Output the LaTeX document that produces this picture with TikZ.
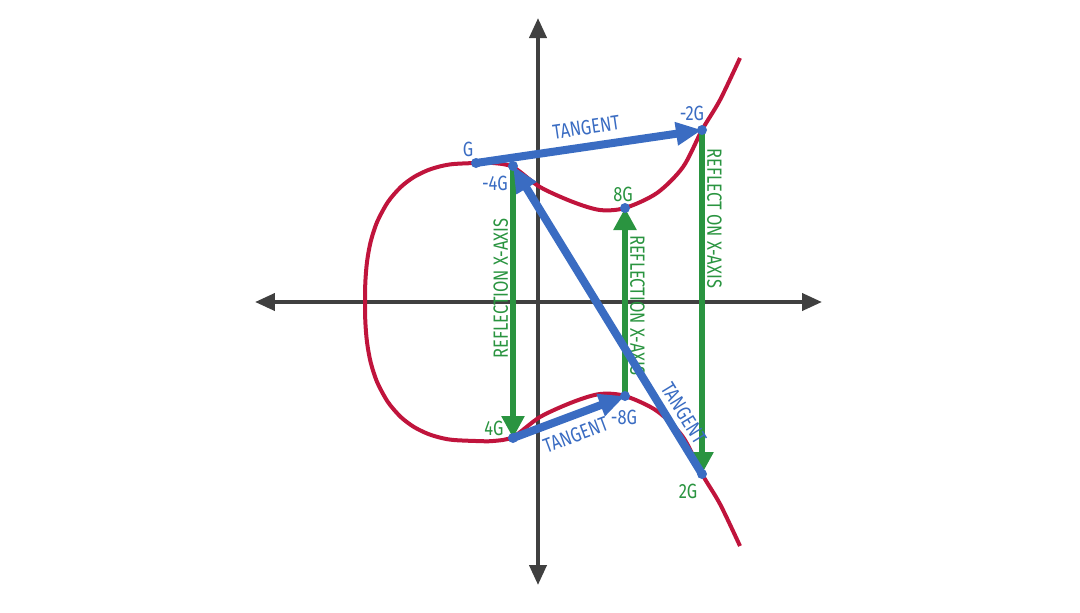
\documentclass[tikz,border=0pt]{standalone}
\usepackage{fontspec}
\setmainfont{Fira Sans}[FakeStretch=0.8]
\usepackage{xcolor}
\usepackage{tikz}
\usetikzlibrary{arrows.meta}
\usetikzlibrary{positioning}

\definecolor{axisgray}{HTML}{404040}
\definecolor{curvered}{HTML}{C0143C}
\definecolor{tanblue}{HTML}{3A6CC2}
\definecolor{refgreen}{HTML}{2A9440}

\begin{document}
\begin{tikzpicture}
    [x=0.5pt, y=0.5pt,
      % Achsen
      axis/.style={draw=axisgray, line width=2pt, {Triangle[length=10pt,width=8.5pt]}-{Triangle[length=10pt,width=8.5pt]}},
      % Kurve
      curve/.style={draw=curvered, line width=2pt},
      % Tangenten und Spiegelungen
      tan/.style={draw=tanblue, line width=4pt, -{Triangle[length=13pt,width=11pt]}},
      refl/.style={draw=refgreen, line width=3pt, -{Triangle[length=11pt,width=11pt]}},
      % Beschriftungen
      lbl/.style={font=\fontsize{10.3}{12}\selectfont, inner sep=1pt},
      dot/.style={fill=tanblue}]
    \useasboundingbox (-538,-310) rectangle (542,302);

    % Achsen
    \coordinate (xl) at (-283,0);
    \coordinate (xr) at (284,0);
    \coordinate (yb) at (0,-283);
    \coordinate (yt) at (0,284);
    \draw[axis] (xl) -- (xr);
    \draw[axis] (yb) -- (yt);

    % Kurve
    \draw[curve] plot[smooth, tension=0.5] coordinates {
      (202,244) (182,202) (164,172) (145,135) (119,109) (87,94) (62,92) (35,100)
      (2,115) (-25,135) (-45,139) (-62,139) (-84.2,138) (-96.3,136) (-109.7,132)
      (-124,125) (-137.2,115) (-150.1,100) (-160.9,80) (-167.4,60) (-171,40) (-172.65,20)
      (-173,0)
      (-172.65,-20) (-171,-40) (-167.4,-60) (-160.9,-80) (-150.1,-100) (-137.2,-115)
      (-124,-125) (-109.7,-132) (-96.3,-136) (-84.2,-138) (-62,-139) (-45,-139)
      (-25,-135) (2,-115) (35,-100) (62,-92) (87,-94) (119,-109) (145,-135)
      (164,-172) (182,-202) (202,-244)};

    % Punkte
    \coordinate (pG) at (-62,139);
    \coordinate (pm4G) at (-25,136);
    \coordinate (pm2G) at (164,172);
    \coordinate (p8G) at (87,94);
    \coordinate (pm8G) at (87,-94);
    \coordinate (p4G) at (-25,-136);
    \coordinate (p2G) at (164,-172);

    % Spiegelungen
    \draw[refl] (pm2G) -- node[lbl, text=refgreen, rotate=-90, above=4pt, pos=0.28] (r1) {REFLECT ON X-AXIS} (p2G);
    \draw[refl] (pm4G) -- node[lbl, text=refgreen, rotate=90, above=4pt, pos=0.48] (r2) {REFLECTION X-AXIS} (p4G);
    \draw[refl] (pm8G) -- node[lbl, text=refgreen, rotate=-90, above=4pt, pos=0.44] (r3) {REFLECTION X-AXIS} (p8G);

    % Tangenten
    \draw[tan] (pG) -- node[lbl, text=tanblue, sloped, above=3pt] (t1) {TANGENT} (pm2G);
    \draw[tan] (p2G) -- node[lbl, text=tanblue, sloped, above=1.5pt, pos=0.17] (t2) {TANGENT} (pm4G);
    \draw[tan] (p4G) -- node[lbl, text=tanblue, sloped, below=3pt] (t3) {TANGENT} (pm8G);

    \fill[dot] (pG) circle[radius=2.5pt] (pm4G) circle[radius=2.5pt]
      (pm2G) circle[radius=2.5pt] (p8G) circle[radius=2.5pt]
      (pm8G) circle[radius=2.5pt] (p4G) circle[radius=2.5pt]
      (p2G) circle[radius=2.5pt];

    % Namen der Punkte
    \node[lbl, text=tanblue] (lG) at (-70,153) {G};
    \node[lbl, text=tanblue] (lm4G) at (-43,119) {-4G};
    \node[lbl, text=tanblue] (lm2G) at (154,189) {-2G};
    \node[lbl, text=refgreen] (l8G) at (85,108) {8G};
    \node[lbl, text=tanblue] (lm8G) at (86,-115) {-8G};
    \node[lbl, text=refgreen] (l4G) at (-44,-126) {4G};
    \node[lbl, text=refgreen] (l2G) at (150,-189) {2G};
\end{tikzpicture}
\end{document}
